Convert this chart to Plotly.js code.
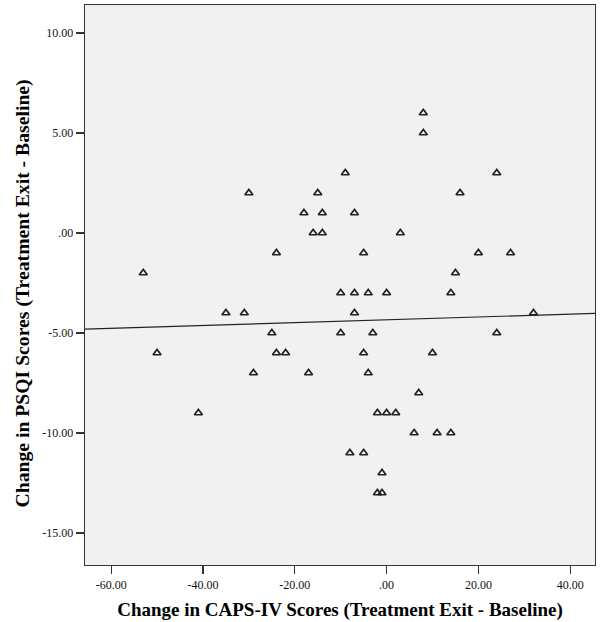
<!DOCTYPE html>
<html>
<head>
<meta charset="utf-8">
<script src="https://cdn.plot.ly/plotly-3.0.1.min.js"></script>
<style>html,body{margin:0;padding:0;background:#fff;}#chart{width:600px;height:622px;}</style>
</head>
<body>
<div id="chart"></div>
<script>
// Change in CAPS-IV scores (x) and change in PSQI scores (y)
const capsChange = [-53,-50,-41,-35,-31,-30,-29,-25,-24,-24,-22,-18,-17,-16,-15,-14,-14,-10,-10,-9,-8,-7,-7,-7,-5,-5,-5,-4,-4,-3,-2,-2,-1,-1,0,0,2,3,6,7,8,8,10,11,14,14,15,16,20,24,24,27,32];
const psqiChange = [-2,-6,-9,-4,-4,2,-7,-5,-1,-6,-6,1,-7,0,2,1,0,-3,-5,3,-11,1,-3,-4,-1,-6,-11,-3,-7,-5,-9,-13,-12,-13,-3,-9,-9,0,-10,-8,6,5,-6,-10,-3,-10,-2,2,-1,3,-5,-1,-4];

// Fit line
const fitIntercept = -4.34;
const fitSlope = 0.0071;

const xRange = [-65.7, 45.4];
const yRange = [-16.6, 11.4];
const xTickVals = [-60,-40,-20,0,20,40];
const xTickText = ["-60.00","-40.00","-20.00",".00","20.00","40.00"];
const yTickVals = [-15,-10,-5,0,5,10];
const yTickText = ["-15.00","-10.00","-5.00",".00","5.00","10.00"];
const xTitle = 'Change in CAPS-IV Scores (Treatment Exit - Baseline)';
const yTitle = 'Change in PSQI Scores (Treatment Exit - Baseline)';

const fitX = xRange.slice();
const fitY = fitX.map(x => fitIntercept + fitSlope * x);

const font = "'Liberation Serif', 'Times New Roman', serif";

const traces = [
  {
    x: fitX, y: fitY, type: 'scatter', mode: 'lines',
    line: {color: '#222', width: 1.2}, hoverinfo: 'skip', showlegend: false
  },
  {
    x: capsChange, y: psqiChange, type: 'scatter', mode: 'markers',
    marker: {symbol: 'triangle-up-open', size: 7, color: '#222', line: {width: 1.7, color: '#222'}},
    showlegend: false
  }
];

const layout = {
  width: 600, height: 622,
  margin: {l: 85, r: 5, t: 5, b: 57},
  paper_bgcolor: '#ffffff',
  plot_bgcolor: '#f1f1f1',
  font: {family: font, color: '#000', size: 12},
  xaxis: {
    range: xRange, tickvals: xTickVals, ticktext: xTickText,
    showgrid: false, zeroline: false,
    showline: true, linecolor: '#333', linewidth: 1.3, mirror: true,
    ticks: 'outside', ticklen: 8, tickwidth: 1.3, tickcolor: '#333',
    tickfont: {family: font, size: 12, color: '#111'},
    title: {text: xTitle, font: {family: font, size: 19, color: '#000', weight: 'bold'}, standoff: 12}
  },
  yaxis: {
    range: yRange, tickvals: yTickVals, ticktext: yTickText,
    showgrid: false, zeroline: false,
    showline: true, linecolor: '#333', linewidth: 1.3, mirror: true,
    ticks: 'outside', ticklen: 8, tickwidth: 1.3, tickcolor: '#333',
    tickfont: {family: font, size: 12, color: '#111'}
  },
  annotations: [{
    text: yTitle, textangle: -90, showarrow: false,
    xref: 'paper', yref: 'paper', x: -0.1235, y: 0.4848,
    xanchor: 'center', yanchor: 'middle',
    font: {family: font, size: 19.7, color: '#000', weight: 'bold'}
  }]
};

Plotly.newPlot('chart', traces, layout, {displayModeBar: false, staticPlot: true});
</script>
</body>
</html>
